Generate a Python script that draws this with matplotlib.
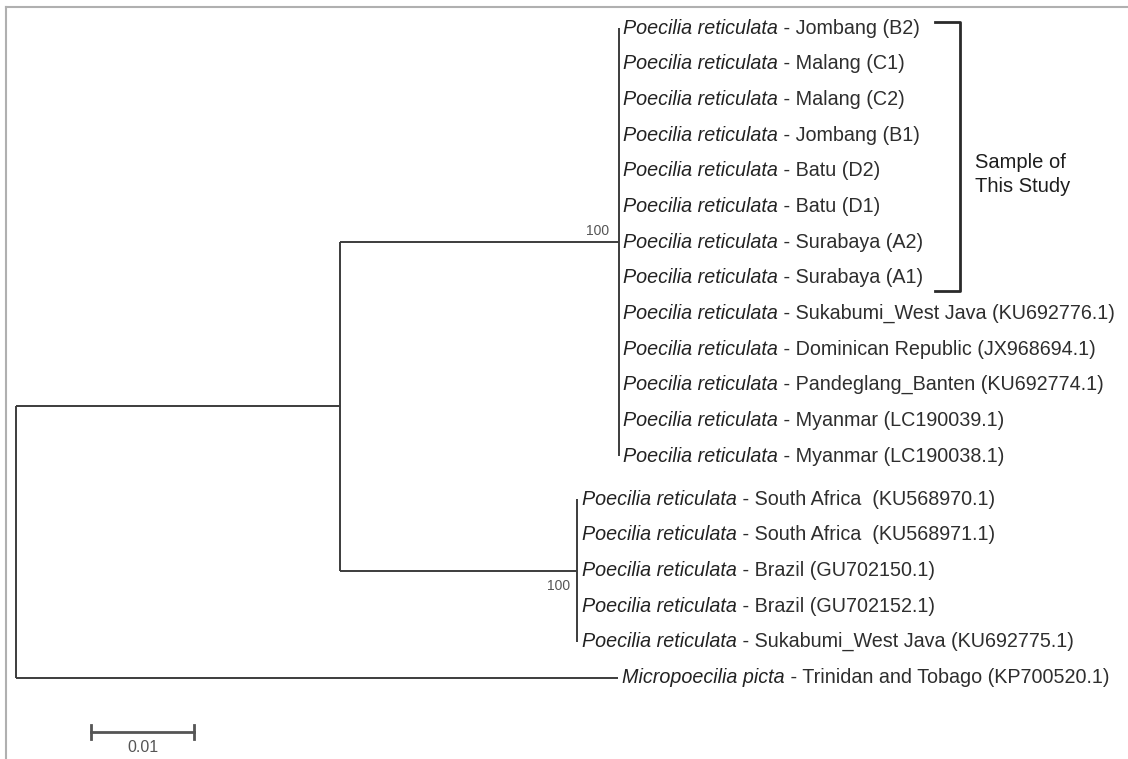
import matplotlib
matplotlib.use("Agg")
import matplotlib.pyplot as plt
from matplotlib.lines import Line2D

plt.rcParams['font.family'] = ['Liberation Sans', 'DejaVu Sans']

# %% data
species = ["Poecilia reticulata"] * 18 + ["Micropoecilia picta"]
places = [
    "Jombang (B2)", "Malang (C1)", "Malang (C2)", "Jombang (B1)",
    "Batu (D2)", "Batu (D1)", "Surabaya (A2)", "Surabaya (A1)",
    "Sukabumi_West Java (KU692776.1)", "Dominican Republic (JX968694.1)",
    "Pandeglang_Banten (KU692774.1)", "Myanmar (LC190039.1)",
    "Myanmar (LC190038.1)",
    "South Africa  (KU568970.1)", "South Africa  (KU568971.1)",
    "Brazil (GU702150.1)", "Brazil (GU702152.1)",
    "Sukabumi_West Java (KU692775.1)",
    "Trinidan and Tobago (KP700520.1)",
]

# branch lengths (substitutions per site)
root_to_ingroup = 0.0315
ingroup_to_clade_a = 0.0270
ingroup_to_clade_b = 0.0230
root_to_outgroup = 0.0584
clade_a_leaves = list(range(0, 13))
clade_b_leaves = list(range(13, 18))
outgroup_leaf = 18
bootstrap_a = 100
bootstrap_b = 100
scale_len = 0.01

tree = {"len": 0.0, "children": [
    {"len": root_to_ingroup, "children": [
        {"len": ingroup_to_clade_a, "boot": bootstrap_a, "boot_pos": "above",
         "children": [{"leaf": i, "len": 0.0} for i in clade_a_leaves]},
        {"len": ingroup_to_clade_b, "boot": bootstrap_b, "boot_pos": "below",
         "children": [{"leaf": i, "len": 0.0} for i in clade_b_leaves]},
    ]},
    {"leaf": outgroup_leaf, "len": root_to_outgroup},
]}

# %% layout
W, H = 1128, 759
px_per_unit = 10300
root_px = 16
fs = 14.2

fig = plt.figure(figsize=(W / 100, H / 100), dpi=100)
ax = fig.add_axes([0, 0, 1, 1])
ax.set_xlim(-root_px / px_per_unit, (W - root_px) / px_per_unit)
ax.set_ylim(H, 0)
ax.axis("off")

line_kw = dict(color="#3c3c3c", lw=1.4, solid_capstyle="butt")


def leaf_y(i):
    return 28 + i * 35.7 + (7 if i >= 13 else 0)


def draw_label(i, x):
    t1 = ax.annotate(species[i], (x, leaf_y(i)), xytext=(3.2, 0),
                     textcoords="offset points", va="center", ha="left",
                     fontsize=fs, style="italic", color="#222222")
    ax.annotate(" - " + places[i], xy=(1, 0), xycoords=t1, va="bottom",
                ha="left", fontsize=fs, color="#2e2e2e")


def draw(node, x0):
    x = x0 + node["len"]
    if "leaf" in node:
        y = leaf_y(node["leaf"])
        ax.plot([x0, x], [y, y], **line_kw)
        draw_label(node["leaf"], x)
        return y
    ys = [draw(c, x) for c in node["children"]]
    ax.plot([x, x], [min(ys), max(ys)], **line_kw)
    y = (min(ys) + max(ys)) / 2
    if node["len"] > 0:
        ax.plot([x0, x], [y, y], **line_kw)
    if "boot" in node:
        if node["boot_pos"] == "above":
            ax.annotate(str(node["boot"]), (x, y), xytext=(-7, 3),
                        textcoords="offset points", ha="right", va="bottom",
                        fontsize=10, color="#555555")
        else:
            ax.annotate(str(node["boot"]), (x, y), xytext=(-5, -6),
                        textcoords="offset points", ha="right", va="top",
                        fontsize=10, color="#555555")
    return y


draw(tree, 0.0)

# bracket for samples of this study
bx = (960 - root_px) / px_per_unit
bx0 = (935 - root_px) / px_per_unit
by0, by1 = leaf_y(clade_a_leaves[0]) - 6, leaf_y(7) + 13
ax.plot([bx0, bx, bx, bx0], [by0, by0, by1, by1], color="#2a2a2a", lw=2)
ax.text(bx + 15 / px_per_unit, (by0 + by1) / 2 + 18, "Sample of\nThis Study",
        ha="left", va="center", fontsize=14.5, color="#1e1e1e",
        linespacing=1.35)

# scale bar
sx = (91 - root_px) / px_per_unit
sy = 732
ax.plot([sx, sx + scale_len], [sy, sy], color="#555555", lw=2)
ax.plot([sx, sx], [sy - 7, sy + 7], color="#555555", lw=2)
ax.plot([sx + scale_len, sx + scale_len], [sy - 7, sy + 7], color="#555555", lw=2)
ax.text(sx + scale_len / 2, sy + 8, f"{scale_len:.2f}", ha="center", va="top",
        fontsize=11.5, color="#555555")

# frame edges from the screenshot
fig.add_artist(Line2D([6 / W, 1], [1 - 7 / H, 1 - 7 / H], color="#b0b0b0", lw=1.5))
fig.add_artist(Line2D([6 / W, 6 / W], [0, 1 - 7 / H], color="#b0b0b0", lw=1.5))

fig.savefig("out.png", dpi=100, facecolor="white")
